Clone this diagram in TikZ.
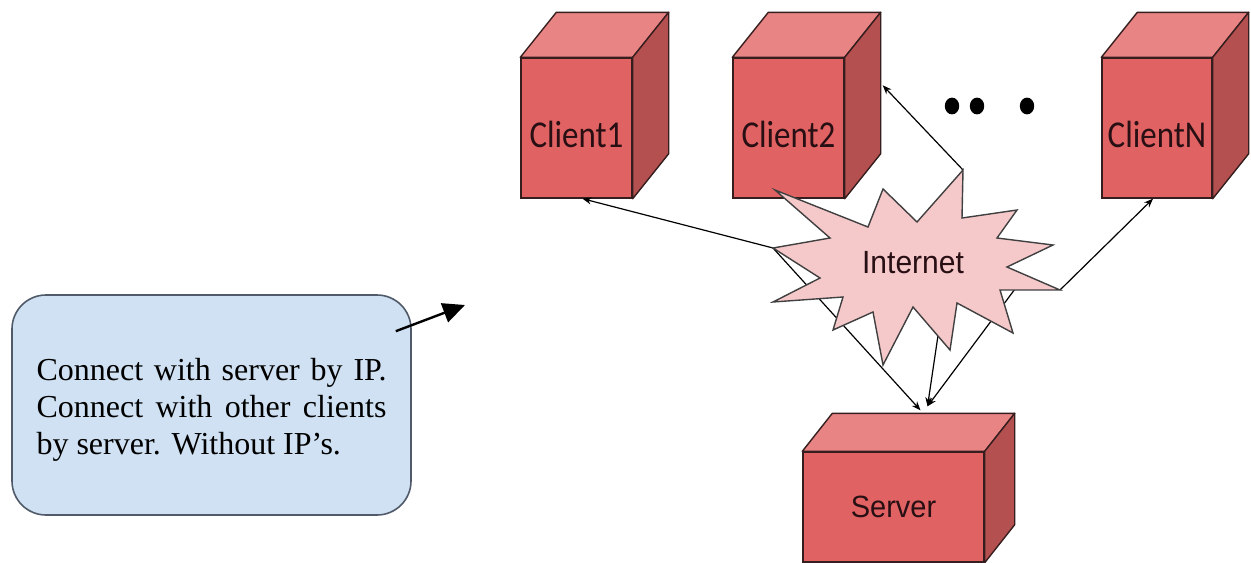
\documentclass[tikz,border=0pt]{standalone}
\usepackage{fontspec}
\usepackage{graphicx}
\setmainfont{Liberation Serif}
\newfontfamily\calibrifont{Carlito}
\newfontfamily\arialfont{Liberation Sans}
\usetikzlibrary{arrows.meta,calc}
\definecolor{frontred}{RGB}{224,98,98}
\definecolor{topred}{RGB}{233,132,132}
\definecolor{sidered}{RGB}{180,80,80}
\definecolor{edgedark}{RGB}{55,30,30}
\definecolor{labeldark}{RGB}{40,15,20}
\definecolor{burstpink}{RGB}{245,200,202}
\definecolor{noteblue}{RGB}{207,225,242}
\definecolor{noteedge}{RGB}{80,90,105}
\newcommand\boxlabel[1]{\raisebox{-3pt}[\height][0pt]{\scalebox{1}[1.15]{#1}}}
\begin{document}
\begin{tikzpicture}[x=0.5pt,y=-0.5pt,>={Stealth[length=4.5pt,width=3.5pt]},
  front/.style={draw=edgedark,fill=frontred,line width=0.7pt,inner sep=0pt,text=labeldark},
  topface/.style={draw=edgedark,fill=topred,line width=0.7pt,line join=round},
  sideface/.style={draw=edgedark,fill=sidered,line width=0.7pt,line join=round},
  burst/.style={draw=black!75,fill=burstpink,line width=0.7pt,line join=miter},
  link/.style={->,line width=0.6pt},
  notebox/.style={draw=noteedge,fill=noteblue,line width=0.8pt,rounded corners=17pt,
    minimum width=199.5pt,minimum height=110pt,text width=175pt,align=justify,
    font=\fontsize{16}{18.5}\selectfont}]
\useasboundingbox (0,0) rectangle (1251,562);
% clients and server
\node (c1) at (576.5,128)[front,minimum width=55.5pt,minimum height=70pt,font=\calibrifont\fontsize{16.5}{18}\selectfont] {\boxlabel{Client1}};
\node (c2) at (788.5,128)[front,minimum width=55.5pt,minimum height=70pt,font=\calibrifont\fontsize{16.5}{18}\selectfont] {\boxlabel{Client2}};
\node (cN) at (1157,128)[front,minimum width=55pt,minimum height=70pt,font=\calibrifont\fontsize{16.5}{18}\selectfont] {\boxlabel{ClientN}};
\node (srv) at (893.5,507)[front,minimum width=90.5pt,minimum height=55pt,font=\arialfont\fontsize{14.5}{16}\selectfont] {\scalebox{1}[1.06]{Server}};
\foreach \c in {c1,c2,cN}{
  \draw[topface] (\c.north west) -- ++(36,-45) -- ($(\c.north east)+(36,-45)$) -- (\c.north east) -- cycle;
  \draw[sideface] (\c.north east) -- ++(36,-45) -- ($(\c.south east)+(36,-45)$) -- (\c.south east) -- cycle;
}
\draw[topface] (srv.north west) -- ++(30,-38) -- ($(srv.north east)+(30,-38)$) -- (srv.north east) -- cycle;
\draw[sideface] (srv.north east) -- ++(30,-38) -- ($(srv.south east)+(30,-38)$) -- (srv.south east) -- cycle;
% dots
\fill (952,106) ellipse [x radius=3.6pt,y radius=4.2pt];
\fill (977,106) ellipse [x radius=3.6pt,y radius=4.2pt];
\fill (1027,106) ellipse [x radius=3.6pt,y radius=4.2pt];
% internet
\coordinate (tipW) at (773,248);
\coordinate (tipN) at (963,170);
\coordinate (tipE) at (1060,290);
\coordinate (netS) at (940,322);
\coordinate (netSE) at (1015,289);
\coordinate (srvA) at ($(srv.north)+(27,-41)$);
\coordinate (srvB) at ($(srv.north)+(34,-45)$);
\draw[link] (tipW) -- ([xshift=3pt]c1.south);
\draw[link] (tipN) -- ($(c2.north east)+(38,28)$);
\draw[link] (tipE) -- ([xshift=-2pt]cN.south);
\draw[link] (tipW) -- (srvA);
\draw[link] (netS) -- (srvB);
\draw[link] (netSE) -- (srvB);
\draw[burst] (773,248) -- (830,238) -- (775,190) -- (868,227) -- (883,189) -- (917,222)
  -- (963,170) -- (962,218) -- (1017,210) -- (997,238) -- (1053,245) -- (1007,267)
  -- (1060,290) -- (1000,290) -- (1013,333) -- (957,303) -- (950,350) -- (913,307)
  -- (883,365) -- (873,312) -- (833,330) -- (843,297) -- (773,302) -- (820,278) -- cycle;
\node (net) at (913,263)[font=\arialfont\fontsize{15}{17}\selectfont,text=labeldark] {\scalebox{1}[1.07]{Internet}};
% note
\node (note) at (211.5,405)[notebox] {\rule{0pt}{16pt}Connect with server by IP. Connect with other clients by server. Without IP’s.};
\coordinate (aim) at (465,305);
\draw[line width=1.2pt,-{Triangle[length=11pt,width=10pt]}] ($(note.north east)+(-16,37)$) -- (aim);
\end{tikzpicture}
\end{document}
